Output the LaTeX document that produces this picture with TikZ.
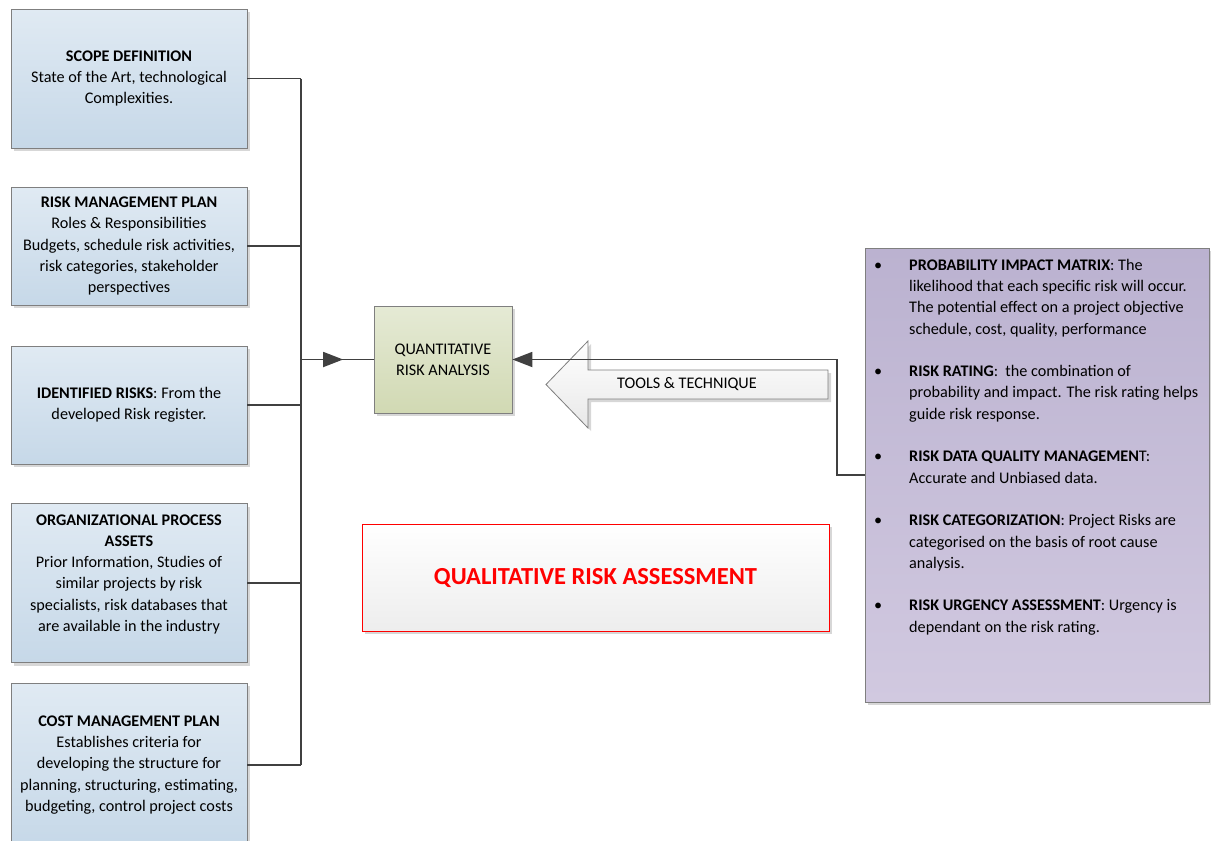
\documentclass[tikz,border=0pt]{standalone}
\usepackage{fontspec}
\setmainfont{Carlito}
\usetikzlibrary{positioning,arrows.meta,shadows,decorations.markings}
\definecolor{boxline}{HTML}{7F7F7F}
\definecolor{linegray}{HTML}{404040}
\definecolor{bluetop}{HTML}{E0EAF3}
\definecolor{bluebot}{HTML}{C6D8E8}
\definecolor{greentop}{HTML}{E5EAD5}
\definecolor{greenbot}{HTML}{D1D9B3}
\definecolor{purpletop}{HTML}{BBB2D0}
\definecolor{purplebot}{HTML}{D1C9E0}
\definecolor{redline}{HTML}{FF0000}
\tikzset{
  boxshadow/.style={drop shadow={shadow xshift=3pt, shadow yshift=-3pt, fill=black!35, opacity=0.45}},
  inbox/.style={draw=boxline, thick, top color=bluetop, bottom color=bluebot, minimum width=236pt, align=center, inner sep=2pt, boxshadow},
  qrabox/.style={draw=boxline, thick, top color=greentop, bottom color=greenbot, minimum width=138pt, minimum height=107pt, align=center, boxshadow},
  matrixbox/.style={draw=boxline, thick, top color=purpletop, bottom color=purplebot, minimum width=344pt, minimum height=454pt, boxshadow},
  assessbox/.style={draw=redline, thick, top color=white, bottom color=black!7, minimum width=467pt, minimum height=107pt, boxshadow},
  hollowarrow/.style={draw=boxline, thick, top color=white, bottom color=black!9, boxshadow},
  conn/.style={draw=linegray, line width=1.8pt},
  tip/.style={-{Triangle[length=20pt, width=15pt]}}
}

\begin{document}
\begin{tikzpicture}[x=1pt, y=-1pt, every node/.style={font=\fontsize{16.2}{21.3}\selectfont}]
  \useasboundingbox (0,0) rectangle (1211,841);

  % inputs on the left
  \node[inbox, minimum height=139pt] (scope) at (129,78.5)
    {\textbf{SCOPE DEFINITION}\\State of the Art, technological\\Complexities.};
  \node[inbox, minimum height=118pt] (rmp) at (129,246)
    {\textbf{RISK MANAGEMENT PLAN}\\Roles \& Responsibilities\\Budgets, schedule risk activities,\\risk categories, stakeholder\\perspectives};
  \node[inbox, minimum height=118pt] (identified) at (129,405)
    {\textbf{IDENTIFIED RISKS}: From the\\developed Risk register.};
  \node[inbox, minimum height=159pt, text depth=20pt] (opa) at (129,583)
    {\textbf{ORGANIZATIONAL PROCESS}\\\textbf{ASSETS}\\Prior Information, Studies of\\similar projects by risk\\specialists, risk databases that\\are available in the industry};
  \node[inbox, minimum height=164pt] (cmp) at (129,765)
    {\textbf{COST MANAGEMENT PLAN}\\Establishes criteria for\\developing the structure for\\planning, structuring, estimating,\\budgeting, control project costs};

  % process box
  \node[qrabox] (qra) at (443,359.5) {QUANTITATIVE\\RISK ANALYSIS};

  % tools and techniques (hollow block arrow)
  \path[hollowarrow] (546,384.5) -- (588,341) -- (588,370) -- (828,370)
    -- (828,399) -- (588,399) -- (588,428) -- cycle;
  \node (tools) at (687,384.5) {TOOLS \& TECHNIQUE};

  % techniques list
  \node[matrixbox] (matrix) at (1037,475) {};
  \node[anchor=north west, inner sep=0pt] (matrixtext) at (874,255) {%
    \begin{tabular}{@{}p{35pt}@{}l@{}}
      \textbullet & \textbf{PROBABILITY IMPACT MATRIX}: The\\
      & likelihood that each specific risk will occur.\\
      & The potential effect on a project objective\\
      & schedule, cost, quality, performance\\[21.3pt]
      \textbullet & \textbf{RISK RATING}:\ \ the combination of\\
      & probability and impact. The risk rating helps\\
      & guide risk response.\\[21.3pt]
      \textbullet & \textbf{RISK DATA QUALITY MANAGEMEN}T:\\
      & Accurate and Unbiased data.\\[21.3pt]
      \textbullet & \textbf{RISK CATEGORIZATION}: Project Risks are\\
      & categorised on the basis of root cause\\
      & analysis.\\[21.3pt]
      \textbullet & \textbf{RISK URGENCY ASSESSMENT}: Urgency is\\
      & dependant on the risk rating.
    \end{tabular}};

  % connectors
  \coordinate (bus) at (301,359.5);
  \draw[conn] (scope.east -| bus) -- (cmp.east -| bus);
  \foreach \src in {scope,rmp,identified,opa,cmp}
    \draw[conn] (\src.east) -- (\src.east -| bus);
  \draw[conn, postaction={decorate}, decoration={markings,
    mark=at position 0.58 with {\arrow{Triangle[length=20pt, width=15pt]}}}] (bus) -- (qra.west);
  \draw[conn, tip] (matrix.west) -- ++(-28,0) |- (qra.east);

  % title box
  \node[assessbox, font=\fontsize{24.5}{28}\selectfont\bfseries, text=redline] (assess) at (595.5,577.5)
    {QUALITATIVE RISK ASSESSMENT};
\end{tikzpicture}
\end{document}
